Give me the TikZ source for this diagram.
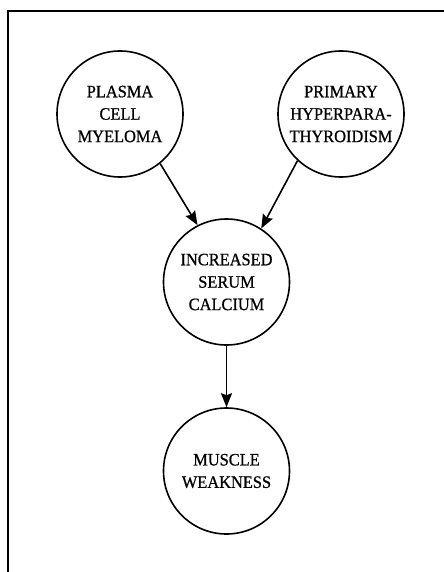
\documentclass[tikz,border=0pt]{standalone}
\usepackage{fontspec}
\setmainfont[FakeStretch=0.94,FakeBold=0.8]{Liberation Serif}
\usetikzlibrary{arrows.meta}
\begin{document}
\begin{tikzpicture}[x=1bp,y=-1bp,
  state/.style={circle,draw,line width=1.6bp,minimum size=126bp,inner sep=0pt,align=center,
    font=\fontsize{17.5}{22.5}\selectfont},
  link/.style={line width=1.6bp,-{Stealth[length=14bp,width=11bp,inset=2bp]}}]
\useasboundingbox (0,0) rectangle (444,572);
\begin{scope}
\clip (0,0) rectangle (444,572);
\draw[line width=1.2bp] (8,11) rectangle (470,600);
\end{scope}
\node[state] (plasma) at (120,114) {PLASMA\\CELL\\MYELOMA};
\node[state] (primary) at (341,114) {PRIMARY\\HYPERPARA-\\THYROIDISM};
\node[state] (calcium) at (226.5,282) {INCREASED\\SERUM\\CALCIUM};
\node[state] (muscle) at (226.5,471) {MUSCLE\\WEAKNESS};
\draw[link] (plasma.-51) -- (calcium.117);
\draw[link] (primary.-133) -- (calcium.57);
\draw[link] (calcium.south) -- (muscle.north);
\end{tikzpicture}
\end{document}
